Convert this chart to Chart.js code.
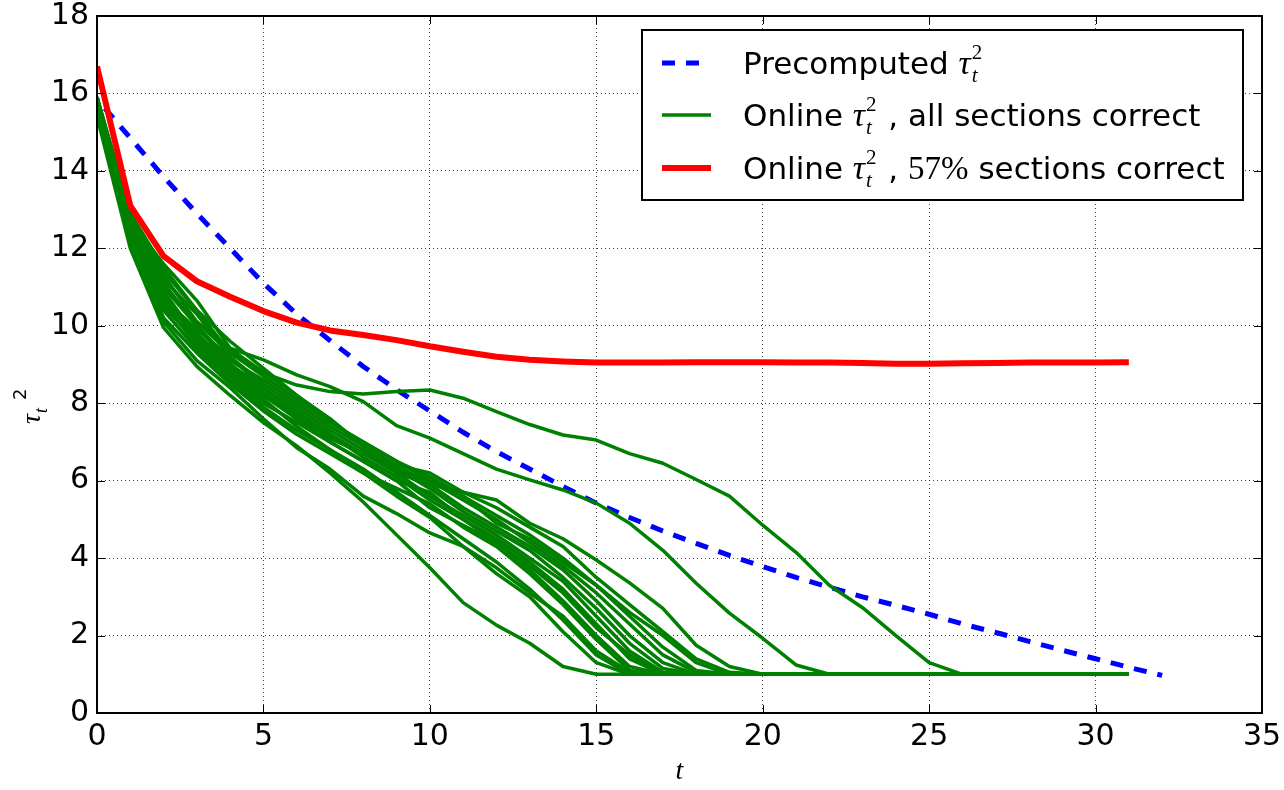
<!DOCTYPE html>
<html>
<head>
<meta charset="utf-8">
<script src="https://cdn.jsdelivr.net/npm/chart.js@4"></script>
<style>
  html, body { margin: 0; padding: 0; background: #fff; }
  #wrap { width: 1284px; height: 790px; }
</style>
</head>
<body>
<div id="wrap"><canvas id="chart"></canvas></div>
<script>
// iteration index t
const tSteps = [0, 1, 2, 3, 4, 5, 6, 7, 8, 9, 10, 11, 12, 13, 14, 15, 16, 17, 18, 19, 20,
                21, 22, 23, 24, 25, 26, 27, 28, 29, 30, 31, 32];
const xTicks = [0, 5, 10, 15, 20, 25, 30, 35];
const yTicks = [0, 2, 4, 6, 8, 10, 12, 14, 16, 18];

// precomputed tau_t^2 (blue dashed)
const precomputed = [15.85, 14.85, 13.85, 12.9, 12.0, 11.1, 10.3, 9.62, 8.95, 8.35,
                     7.8, 7.25, 6.75, 6.3, 5.85, 5.42, 5.05, 4.7, 4.38, 4.07,
                     3.78, 3.5, 3.25, 3.0, 2.78, 2.55, 2.3, 2.08, 1.85, 1.62,
                     1.4, 1.18, 0.97];

// online tau_t^2, 57% sections correct (red)
const onlinePartial = [16.7, 13.1, 11.8, 11.15, 10.75, 10.38, 10.08, 9.88, 9.76, 9.63,
                       9.47, 9.33, 9.2, 9.12, 9.08, 9.05, 9.05, 9.05, 9.06, 9.06,
                       9.06, 9.05, 9.05, 9.04, 9.02, 9.02, 9.03, 9.04, 9.05, 9.05,
                       9.05, 9.06];

// online tau_t^2, all sections correct (green, one array per run)
const run01 = [15.9, 12.9, 11.3, 10.1, 9.3, 8.78, 8.47, 8.3, 8.24, 8.3,
               8.34, 8.13, 7.78, 7.45, 7.18, 7.05, 6.7, 6.45, 6.03, 5.6,
               4.85, 4.15, 3.3, 2.72, 2.0, 1.3, 1, 1, 1, 1,
               1, 1];
const run02 = [15.7, 12.7, 11.6, 10.65, 9.42, 9.12, 8.73, 8.43, 8.04, 7.42,
               7.1, 6.7, 6.3, 6.02, 5.76, 5.42, 4.9, 4.2, 3.35, 2.58,
               1.93, 1.24, 1, 1, 1, 1, 1, 1, 1, 1,
               1, 1];
const run03 = [15.4, 12.0, 9.95, 8.95, 8.2, 7.5, 6.9, 6.2, 5.45, 4.6,
               3.75, 2.85, 2.27, 1.8, 1.2, 1, 1, 1, 1, 1,
               1, 1, 1, 1, 1, 1, 1, 1, 1, 1,
               1, 1];
const run04 = [15.5, 12.2, 10.1, 9.1, 8.4, 7.6, 6.85, 6.3, 5.6, 5.15,
               4.65, 4.3, 3.75, 3.1, 2.5, 1.6, 1.05, 1, 1, 1,
               1, 1, 1, 1, 1, 1, 1, 1, 1, 1,
               1, 1];
const run05 = [15.6, 12.4, 10.4, 9.4, 8.6, 7.9, 7.3, 6.8, 6.3, 5.7,
               5.1, 4.5, 3.9, 3.2, 2.4, 1.5, 1, 1, 1, 1,
               1, 1, 1, 1, 1, 1, 1, 1, 1, 1,
               1, 1];
const run06 = [15.5, 12.5, 10.8, 9.6, 8.8, 8.1, 7.4, 6.8, 6.2, 5.6,
               5.05, 4.3, 3.6, 3.0, 2.1, 1.3, 1, 1, 1, 1,
               1, 1, 1, 1, 1, 1, 1, 1, 1, 1,
               1, 1];
const run07 = [15.8, 12.6, 10.6, 9.8, 9.0, 8.3, 7.6, 7.0, 6.5, 6.0,
               5.3, 4.85, 4.4, 3.7, 2.9, 2.0, 1.2, 1, 1, 1,
               1, 1, 1, 1, 1, 1, 1, 1, 1, 1,
               1, 1];
const run08 = [15.7, 12.8, 11.0, 10.0, 9.0, 8.4, 7.8, 7.2, 6.6, 6.1,
               5.5, 5.0, 4.5, 3.9, 3.2, 2.3, 1.4, 1, 1, 1,
               1, 1, 1, 1, 1, 1, 1, 1, 1, 1,
               1, 1];
const run09 = [15.9, 12.5, 10.9, 9.7, 8.9, 8.2, 7.6, 7.1, 6.7, 6.2,
               5.6, 5.1, 4.6, 4.0, 3.4, 2.5, 1.6, 1.05, 1, 1,
               1, 1, 1, 1, 1, 1, 1, 1, 1, 1,
               1, 1];
const run10 = [15.6, 12.7, 11.2, 10.3, 9.2, 8.5, 7.9, 7.3, 6.8, 6.3,
               5.8, 5.2, 4.7, 4.2, 3.5, 2.7, 1.8, 1.15, 1, 1,
               1, 1, 1, 1, 1, 1, 1, 1, 1, 1,
               1, 1];
const run11 = [15.8, 12.9, 11.1, 10.0, 9.1, 8.6, 8.0, 7.4, 6.9, 6.4,
               5.9, 5.3, 4.8, 4.3, 3.7, 2.9, 2.0, 1.3, 1, 1,
               1, 1, 1, 1, 1, 1, 1, 1, 1, 1,
               1, 1];
const run12 = [15.7, 12.6, 10.7, 9.9, 9.2, 8.4, 7.7, 7.2, 6.7, 6.3,
               6.0, 5.5, 5.0, 4.4, 3.8, 3.1, 2.3, 1.5, 1.05, 1,
               1, 1, 1, 1, 1, 1, 1, 1, 1, 1,
               1, 1];
const run13 = [15.9, 12.8, 11.4, 10.4, 9.3, 8.7, 8.1, 7.5, 7.0, 6.5,
               6.1, 5.6, 5.1, 4.6, 4.0, 3.3, 2.5, 1.7, 1.1, 1,
               1, 1, 1, 1, 1, 1, 1, 1, 1, 1,
               1, 1];
const run14 = [15.6, 12.4, 10.5, 9.6, 8.9, 8.2, 7.7, 7.1, 6.7, 6.4,
               6.2, 5.7, 5.3, 4.8, 4.3, 3.5, 2.8, 2.1, 1.4, 1.05,
               1, 1, 1, 1, 1, 1, 1, 1, 1, 1,
               1, 1];
const run15 = [15.8, 12.7, 11.0, 10.1, 9.4, 8.8, 8.2, 7.6, 6.9, 6.2,
               5.9, 5.7, 5.5, 4.9, 4.5, 3.95, 3.36, 2.7, 1.75, 1.2,
               1, 1, 1, 1, 1, 1, 1, 1, 1, 1,
               1, 1];
const run16 = [15.5, 12.3, 10.2, 9.3, 8.5, 7.8, 7.2, 6.7, 6.2, 5.8,
               5.4, 4.8, 4.3, 3.6, 2.8, 1.9, 1.1, 1, 1, 1,
               1, 1, 1, 1, 1, 1, 1, 1, 1, 1,
               1, 1];
const run17 = [15.7, 12.5, 10.6, 9.5, 8.7, 8.0, 7.5, 7.0, 6.5, 6.0,
               5.7, 5.0, 4.4, 3.8, 3.1, 2.2, 1.5, 1, 1, 1,
               1, 1, 1, 1, 1, 1, 1, 1, 1, 1,
               1, 1];
const run18 = [15.9, 12.9, 11.5, 10.4, 9.6, 8.9, 8.2, 7.5, 7.0, 6.5,
               6.0, 5.6, 4.9, 4.5, 3.9, 3.3, 2.6, 2.0, 1.3, 1,
               1, 1, 1, 1, 1, 1, 1, 1, 1, 1,
               1, 1];
const onlineRuns = [run01, run02, run03, run04, run05, run06, run07, run08, run09,
                    run10, run11, run12, run13, run14, run15, run16, run17, run18];

const BLUE = '#0000ff', GREEN = '#008000', RED = '#ff0000';
const SANS = "'DejaVu Sans', sans-serif";
const SERIF = "'Liberation Serif', 'DejaVu Serif', serif";

const toPoints = arr => arr.map((v, i) => ({ x: tSteps[i], y: v }));

// dataset 0 is drawn on top in Chart.js: red, then greens, blue at the bottom
const datasets = [
    { data: toPoints(onlinePartial), borderColor: RED, borderWidth: 6 }
];
onlineRuns.forEach(run => {
    datasets.push({ data: toPoints(run), borderColor: GREEN, borderWidth: 3.5 });
});
datasets.push({ data: toPoints(precomputed), borderColor: BLUE, borderWidth: 5,
                borderDash: [13, 11], borderDashOffset: 12 });
datasets.forEach(d => {
    d.pointRadius = 0;
    d.fill = false;
    d.tension = 0;
    d.borderJoinStyle = 'round';
});

// 数式っぽい凡例テキストを描く
const drawParts = (ctx, x, y, parts) => {
    parts.forEach(p => {
        ctx.font = p.font;
        ctx.fillText(p.text, x, y + (p.dy || 0));
        if (!p.stack) x += ctx.measureText(p.text).width + (p.gap || 0);
    });
};
const tauParts = [
    { text: 'τ', font: `italic 34px ${SERIF}`, gap: 1 },
    { text: 't', font: `italic 21px ${SERIF}`, dy: 8, stack: true },
    { text: '2', font: `21px ${SERIF}`, dy: -15, gap: 2 }
];

const framePlugin = {
    id: 'frame',
    afterDraw(chart) {
        const { ctx, chartArea: a, scales } = chart;
        ctx.save();
        // inward ticks
        ctx.strokeStyle = '#000';
        ctx.lineWidth = 1;
        ctx.beginPath();
        xTicks.forEach(v => {
            const px = Math.round(scales.x.getPixelForValue(v)) + 0.5;
            ctx.moveTo(px, a.bottom); ctx.lineTo(px, a.bottom - 8);
            ctx.moveTo(px, a.top); ctx.lineTo(px, a.top + 8);
        });
        yTicks.forEach(v => {
            const py = Math.round(scales.y.getPixelForValue(v)) + 0.5;
            ctx.moveTo(a.left, py); ctx.lineTo(a.left + 8, py);
            ctx.moveTo(a.right, py); ctx.lineTo(a.right - 8, py);
        });
        ctx.stroke();
        // axes box
        ctx.lineWidth = 2;
        ctx.strokeRect(a.left, a.top, a.right - a.left, a.bottom - a.top);

        // legend
        const lx = 642, ly = 30, lw = 601, lh = 170;
        ctx.fillStyle = '#fff';
        ctx.fillRect(lx, ly, lw, lh);
        ctx.strokeRect(lx, ly, lw, lh);
        const rows = [
            { y: 63, color: BLUE, width: 5, dash: [13, 11],
              parts: [{ text: 'Precomputed ', font: `31px ${SANS}` }, ...tauParts] },
            { y: 115, color: GREEN, width: 3.5, dash: [],
              parts: [{ text: 'Online ', font: `31px ${SANS}` }, ...tauParts,
                      { text: ' , all sections correct', font: `31px ${SANS}` }] },
            { y: 168, color: RED, width: 6, dash: [],
              parts: [{ text: 'Online ', font: `31px ${SANS}` }, ...tauParts,
                      { text: ' , ', font: `31px ${SANS}` },
                      { text: '57%', font: `33px ${SERIF}` },
                      { text: ' sections correct', font: `31px ${SANS}` }] }
        ];
        rows.forEach(r => {
            ctx.strokeStyle = r.color;
            ctx.lineWidth = r.width;
            ctx.setLineDash(r.dash);
            ctx.beginPath();
            ctx.moveTo(662, r.y);
            ctx.lineTo(r.dash.length ? 700 : 711, r.y);
            ctx.stroke();
            ctx.setLineDash([]);
            ctx.fillStyle = '#000';
            ctx.textBaseline = 'alphabetic';
            drawParts(ctx, 743, r.y + 11, r.parts);
        });

        // axis titles
        ctx.fillStyle = '#000';
        ctx.textAlign = 'center';
        ctx.textBaseline = 'middle';
        ctx.font = `italic 28px ${SERIF}`;
        ctx.fillText('t', (a.left + a.right) / 2, 772);

        ctx.translate(40, 398);
        ctx.rotate(-Math.PI / 2);
        ctx.textAlign = 'left';
        ctx.textBaseline = 'alphabetic';
        drawParts(ctx, -26, 0, [
            { text: 'τ', font: `italic 28px ${SERIF}`, gap: 1 },
            { text: 't', font: `italic 18px ${SERIF}`, dy: 7, gap: 8 },
            { text: '2', font: `18px ${SANS}`, dy: -14 }
        ]);
        ctx.restore();
    }
};

new Chart(document.getElementById('chart'), {
    type: 'line',
    data: { datasets },
    plugins: [framePlugin],
    options: {
        responsive: true,
        maintainAspectRatio: false,
        animation: false,
        layout: { padding: { top: 16, right: 22, bottom: 0, left: 0 } },
        plugins: {
            legend: { display: false },
            tooltip: { enabled: false }
        },
        scales: {
            x: {
                type: 'linear',
                min: 0,
                max: 35,
                afterBuildTicks: s => { s.ticks = xTicks.map(v => ({ value: v })); },
                afterFit: s => { s.height = 77; s.paddingLeft = 0; s.paddingRight = 0; },
                ticks: { color: '#000', font: { family: SANS, size: 30 }, padding: 6, maxRotation: 0 },
                grid: { color: 'rgba(0,0,0,0.75)', lineWidth: 1, drawTicks: false },
                border: { display: false, dash: [1, 3] }
            },
            y: {
                type: 'linear',
                min: 0,
                max: 18,
                afterBuildTicks: s => { s.ticks = yTicks.map(v => ({ value: v })); },
                afterFit: s => { s.width = 97; s.paddingTop = 0; s.paddingBottom = 0; },
                ticks: { color: '#000', font: { family: SANS, size: 30 }, padding: 8 },
                grid: { color: 'rgba(0,0,0,0.75)', lineWidth: 1, drawTicks: false },
                border: { display: false, dash: [1, 3] }
            }
        }
    }
});
</script>
</body>
</html>
